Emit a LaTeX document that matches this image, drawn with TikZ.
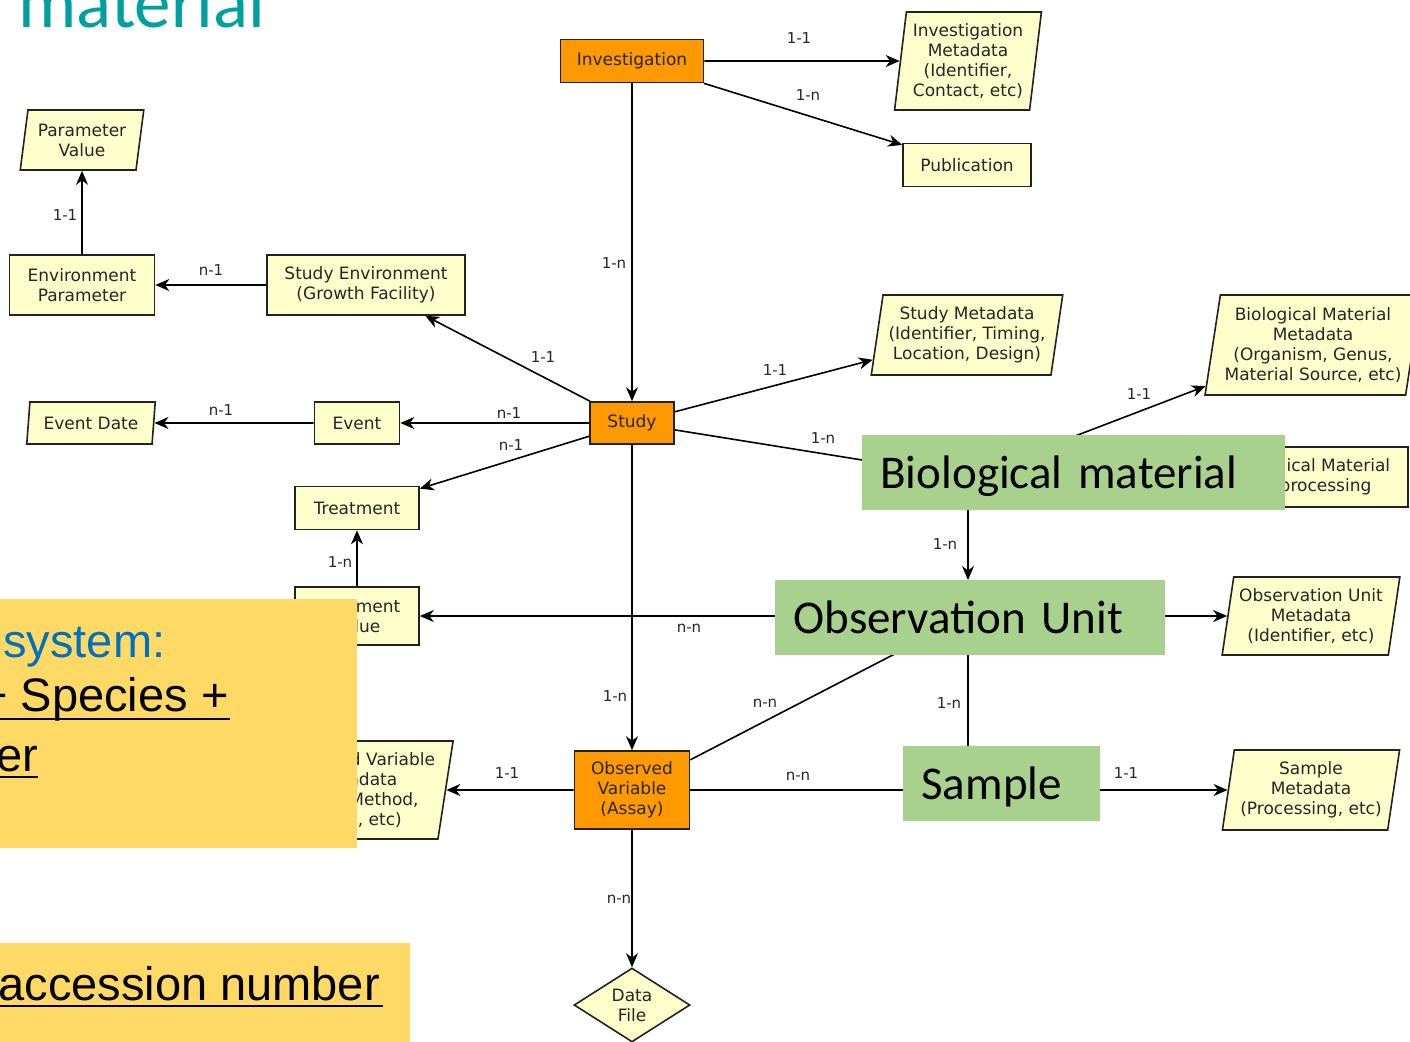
\documentclass[tikz,border=0pt]{standalone}
\usepackage{fontspec}
\setmainfont{DejaVu Sans}
\newfontfamily\calif{Carlito}
\newfontfamily\arialf{Liberation Sans}
\usetikzlibrary{shapes.geometric,arrows.meta}
\definecolor{orangebox}{HTML}{FF9900}
\definecolor{ylw}{HTML}{FFFFCC}
\definecolor{grn}{HTML}{A9D18E}
\definecolor{gold}{HTML}{FFD966}
\definecolor{tealt}{HTML}{00A0A0}
\definecolor{blu}{HTML}{0070C0}
\definecolor{edgec}{HTML}{222222}
\pgfdeclarelayer{bg}
\pgfsetlayers{bg,main}
\begin{document}
\begin{tikzpicture}[x=0.5pt,y=-0.5pt,
  base/.style={draw=edgec, line width=0.8pt, font=\fontsize{8.5}{10}\selectfont, align=center, inner sep=0pt, text=black!85},
  ent/.style={base, fill=ylw, rectangle},
  core/.style={base, fill=orangebox, rectangle},
  para/.style={base, fill=ylw, trapezium, trapezium left angle=#1, trapezium right angle=180-#1, trapezium stretches=true},
  para/.default=79,
  sz/.style 2 args={minimum width=#1, minimum height=#2},
  arr/.style={draw=black, line width=0.8pt, -{Stealth[length=7pt,width=6pt,inset=2.2pt]}},
  lbl/.style={font=\fontsize{7.5}{8}\selectfont, inner sep=1pt, text=black!85},
  over/.style={fill=grn, inner sep=0pt, inner xsep=9pt, align=left, anchor=north west, text height=17pt, text depth=1.5pt, font=\calif\fontsize{23.5}{28}\selectfont, text=black},
  slide/.style={anchor=base west, inner sep=0pt, font=\arialf\fontsize{23.5}{28}\selectfont, text=black},
  uline/.style={line width=1.2pt, draw=black},
]
\useasboundingbox (0,0) rectangle (1410,1041);
\clip (0,0) rectangle (1410,1041);

% title fragment
\node[anchor=base west, inner sep=0pt, text=tealt, font=\calif\fontsize{36.5}{40}\selectfont] (title) at (18,27) {material};

% entities
\node[core, sz={71.5pt}{21.5pt}] (inv) at (632,61) {Investigation};
\node[para=82, sz={73.5pt}{49pt}] (invmeta) at (968,61) {Investigation\\Metadata\\(Identifier,\\Contact, etc)};
\node[ent, sz={64pt}{21.5pt}] (pub) at (967,165) {Publication};
\node[para, sz={62pt}{30pt}] (parval) at (82,140) {Parameter\\Value};
\node[ent, sz={72.5pt}{30pt}] (envpar) at (82,285) {Environment\\Parameter};
\node[ent, sz={99pt}{30pt}] (studyenv) at (366,285) {Study Environment\\(Growth Facility)};
\node[para, sz={96.5pt}{40pt}] (studymeta) at (967,335) {Study Metadata\\(Identifier, Timing,\\Location, Design)};
\node[para, sz={108pt}{50pt}] (biometa) at (1313,345) {Biological Material\\Metadata\\(Organism, Genus,\\Material Source, etc)};
\node[para, sz={64.5pt}{21pt}] (eventdate) at (91,423) {Event Date};
\node[ent, sz={42.5pt}{21pt}] (event) at (357,423) {Event};
\node[core, sz={42pt}{21pt}] (study) at (632,423) {Study};
\node[ent, sz={62pt}{21.5pt}] (treat) at (357,508) {Treatment};
\node[ent, sz={96pt}{30pt}] (preproc) at (1312,477) {Biological Material\\Preprocessing};
\node[ent, sz={62pt}{29pt}] (treatval) at (357,616) {Treatment\\Value};
\node[para, sz={89pt}{39pt}] (obsmeta) at (1311,616) {Observation Unit\\Metadata\\(Identifier, etc)};
\node[para, sz={89pt}{40pt}] (sampmeta) at (1311,790) {Sample\\Metadata\\(Processing, etc)};
\node[core, sz={57.5pt}{39pt}] (obsvar) at (632,790) {Observed\\Variable\\(Assay)};
\node[para, sz={97pt}{49pt}] (obsvarmeta) at (357,790) {Observed Variable\\Metadata\\(Trait, Method,\\Scale, etc)};
\node[base, fill=ylw, diamond, aspect=1.55, sz={58pt}{37pt}] (datafile) at (632,1005) {Data\\File};

% hidden centres of the overlaid entities
\coordinate (bmx) at (968,477);
\coordinate (oux) at (968,616);
\coordinate (smx) at (968,790);

% overlays (green)
\node[over, minimum height=37.5pt, text width=193.5pt] (biomat) at (862,435) {Biological material};
\node[over, minimum height=37.5pt, text width=177pt] (obsunit) at (775,580) {Observation Unit};
\node[over, minimum height=37.5pt, text width=80.5pt] (sample) at (903,746) {Sample};

% connectors
\begin{pgfonlayer}{bg}
\fill[white] (0,0) rectangle (1410,1041);
\draw[arr] (inv) -- (invmeta);
\draw[arr] (inv) -- (pub);
\draw[arr] (inv) -- (study);
\draw[arr] (study) -- (studyenv);
\draw[arr] (study) -- (event);
\draw[arr] (study) -- (treat);
\draw[arr] (study) -- (studymeta);
\draw[arr] (study) -- (bmx);
\draw[arr] (study) -- (obsvar);
\draw[arr] (studyenv) -- (envpar);
\draw[arr] (envpar) -- (parval);
\draw[arr] (event) -- (eventdate);
\draw[arr] (treatval) -- (treat);
\draw[arr] (bmx) -- (biometa);
\draw[arr] (bmx) -- (obsunit.north -| bmx);
\draw[arr] (oux) -- (obsmeta);
\draw[arr] (oux) -- (treatval);
\draw[arr] (oux) -- (smx);
\draw[arr] (obsvar) -- (oux);
\draw[arr] (obsvar) -- (smx);
\draw[arr] (smx) -- (sampmeta);
\draw[arr] (obsvar) -- (obsvarmeta);
\draw[arr] (obsvar) -- (datafile);
\end{pgfonlayer}

% connector labels
\node[lbl] (l1) at (799,38) {1-1};
\node[lbl] (l2) at (808,95) {1-n};
\node[lbl] (l3) at (614,263) {1-n};
\node[lbl] (l4) at (65,215) {1-1};
\node[lbl] (l5) at (211,270) {n-1};
\node[lbl] (l6) at (543,357) {1-1};
\node[lbl] (l7) at (775,370) {1-1};
\node[lbl] (l8) at (1139,394) {1-1};
\node[lbl] (l9) at (221,410) {n-1};
\node[lbl] (l10) at (509,413) {n-1};
\node[lbl] (l11) at (511,445) {n-1};
\node[lbl] (l12) at (823,438) {1-n};
\node[lbl] (l13) at (340,562) {1-n};
\node[lbl] (l14) at (945,544) {1-n};
\node[lbl] (l15) at (689,628) {n-n};
\node[lbl] (l16) at (615,696) {1-n};
\node[lbl] (l17) at (765,703) {n-n};
\node[lbl] (l18) at (949,703) {1-n};
\node[lbl] (l19) at (507,773) {1-1};
\node[lbl] (l20) at (798,776) {n-n};
\node[lbl] (l21) at (1126,773) {1-1};
\node[lbl] (l22) at (619,899) {n-n};

% overlays (gold)
\fill[gold] (0,599) rectangle (357,848);
\node[slide, text=blu] (sys) at (3,657) {system:};
\node[slide] (spec) at (-20,711) {+ Species +};
\draw[uline] (0,719) -- (230,719);
\node[slide] (er) at (-4,771) {er};
\draw[uline] (0,777) -- (38,777);
\fill[gold] (0,943) rectangle (410,1045);
\node[slide] (acc) at (-2,1000) {accession number};
\draw[uline] (0,1006) -- (383,1006);
\end{tikzpicture}
\end{document}
